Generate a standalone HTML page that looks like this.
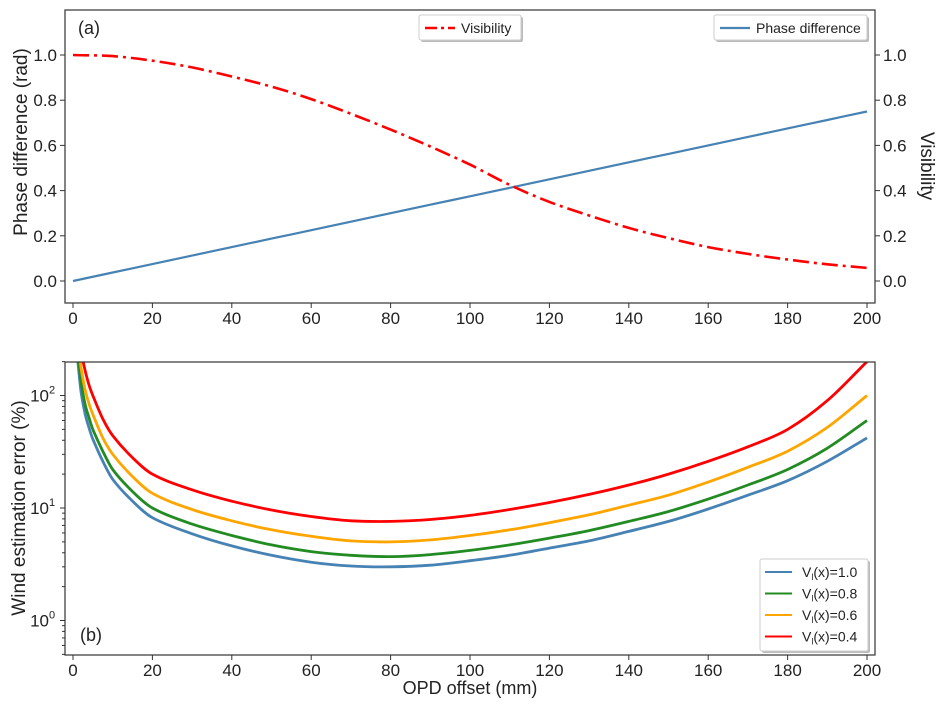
<!DOCTYPE html>
<html><head><meta charset="utf-8"><style>
body{margin:0;background:#fff;}
svg{display:block;font-family:"Liberation Sans","DejaVu Sans",sans-serif;}
</style></head><body>
<svg id="c" width="936" height="707"></svg>
<script>
const opd=[0,10,20,30,40,50,60,70,80,90,100,110,120,130,140,150,160,170,180,190,200];
const phaseVals=[0,0.0375,0.075,0.1125,0.15,0.1875,0.225,0.2625,0.3,0.3375,0.375,0.4125,0.45,0.4875,0.525,0.5625,0.6,0.6375,0.675,0.7125,0.75];
const visVals=[1.0,0.995,0.975,0.945,0.905,0.86,0.805,0.74,0.67,0.595,0.515,0.425,0.35,0.29,0.235,0.19,0.15,0.12,0.095,0.074,0.058];
const errX=[1,2,3,4,5,7.5,10,15,20,30,40,50,60,70,80,90,100,110,120,130,140,150,160,170,180,190,200];
const errRed=[600,260,170,125,100,62,44,28,20,14.5,11.5,9.6,8.4,7.7,7.6,7.9,8.6,9.7,11.2,13.2,16,20,26,35,50,90,200];
const errOrange=[400,180,115,85,68,42,30,19,13.5,9.7,7.7,6.4,5.6,5.1,5,5.2,5.7,6.4,7.4,8.7,10.6,13,17,23,32,52,100];
const errGreen=[300,135,85,64,50,32,22,14,10,7.2,5.7,4.7,4.1,3.8,3.7,3.85,4.2,4.7,5.4,6.3,7.6,9.3,12,16,22,34,60];
const errBlue=[240,110,70,52,41,26,18,11.5,8.2,5.9,4.6,3.8,3.3,3.05,3.0,3.1,3.4,3.8,4.4,5.1,6.2,7.6,9.8,13,17.5,26,42];
const xTicks=[0,20,40,60,80,100,120,140,160,180,200];
const yTicksTop=[0.0,0.2,0.4,0.6,0.8,1.0];
const yTicksLog=[0,1,2];

const NS='http://www.w3.org/2000/svg';
const svg=document.getElementById('c');
function mk(tag,attrs,parent){const e=document.createElementNS(NS,tag);for(const k in attrs)e.setAttribute(k,attrs[k]);(parent||svg).appendChild(e);return e;}
function txt(s,attrs,parent){const e=mk('text',attrs,parent);e.textContent=s;return e;}
const L=65,R=875;
const sx=v=>73+(v)*(867-73)/200;
const T1=10,B1=303; const sy1=v=>281-v*226;
const T2=362,B2=655; const sy2=v=>508-(Math.log10(v)-1)*112.5;

function smooth(pts){let d='M'+pts[0][0]+','+pts[0][1];
 for(let i=0;i<pts.length-1;i++){const p0=pts[Math.max(0,i-1)],p1=pts[i],p2=pts[i+1],p3=pts[Math.min(pts.length-1,i+2)];
 const h=p2[0]-p1[0];
 const m1=(p2[1]-p0[1])/((p2[0]-p0[0])||1), m2=(p3[1]-p1[1])/((p3[0]-p1[0])||1);
 const c1=[p1[0]+h/3,p1[1]+m1*h/3],c2=[p2[0]-h/3,p2[1]-m2*h/3];
 d+=' C'+c1[0].toFixed(1)+','+c1[1].toFixed(1)+' '+c2[0].toFixed(1)+','+c2[1].toFixed(1)+' '+p2[0].toFixed(1)+','+p2[1].toFixed(1);}
 return d;}

const defs=mk('defs',{});
const cp1=mk('clipPath',{id:'cp1'},defs);mk('rect',{x:L,y:T1,width:R-L,height:B1-T1},cp1);
const cp2=mk('clipPath',{id:'cp2'},defs);mk('rect',{x:L,y:T2,width:R-L,height:B2-T2},cp2);

const g1=mk('g',{'clip-path':'url(#cp1)'});


let p=mk('path',{d:smooth(opd.map((x,i)=>[sx(x),sy1(phaseVals[i])])),fill:'none',stroke:'#4682b4','stroke-width':2.2},g1);


p=mk('path',{d:smooth(opd.map((x,i)=>[sx(x),sy1(visVals[i])])),fill:'none',stroke:'#ff0000','stroke-width':2.6,'stroke-dasharray':'16,5,3,5'},g1);



function frame(T,B,name){const r=mk('rect',{x:L,y:T,width:R-L,height:B-T,fill:'none',stroke:'#333','stroke-width':1.2});
 }
frame(T1,B1,'top-axes-frame');
function xAxis(B,name){const g=mk('g',{});
 xTicks.forEach(t=>{mk('line',{x1:sx(t),x2:sx(t),y1:B,y2:B+5,stroke:'#333'},g);txt(String(t),{x:sx(t),y:B+21,'font-size':17,'text-anchor':'middle',fill:'#222'},g);});}
xAxis(B1,'top-x-axis');xAxis(B2,'bottom-x-axis');
const gl=mk('g',{});
const gr=mk('g',{});
yTicksTop.forEach(t=>{const y=sy1(t);mk('line',{x1:L-5,x2:L,y1:y,y2:y,stroke:'#333'},gl);
 txt(t.toFixed(1),{x:L-8,y:y+6,'font-size':17,'text-anchor':'end',fill:'#222'},gl);
 mk('line',{x1:R,x2:R+5,y1:y,y2:y,stroke:'#333'},gr);
 txt(t.toFixed(1),{x:R+8,y:y+6,'font-size':17,'text-anchor':'start',fill:'#222'},gr);});
let t=txt('Phase difference (rad)',{x:0,y:0,'font-size':19,'text-anchor':'middle',fill:'#222',transform:'translate(27,142) rotate(-90)'});

t=txt('Visibility',{x:0,y:0,'font-size':19,'text-anchor':'middle',fill:'#222',transform:'translate(921,166) rotate(90)'});

t=txt('(a)',{x:78,y:34,'font-size':18,fill:'#222'});

function legendBox(x,y,w,h,name){const g=mk('g',{});
 mk('rect',{x:x+2,y:y+2,width:w,height:h,fill:'#bbb',rx:2},g);mk('rect',{x:x,y:y,width:w,height:h,fill:'#fff',stroke:'#ccc',rx:2},g);return g;}
let lg=legendBox(419,15,102,25,'visibility-legend');
mk('line',{x1:425,x2:455,y1:28,y2:28,stroke:'#f00','stroke-width':2.6,'stroke-dasharray':'12,4,3,4'},lg);
txt('Visibility',{x:461,y:33,'font-size':14,fill:'#222'},lg);
lg=legendBox(714,15,153,25,'phase-legend');
mk('line',{x1:720,x2:750,y1:28,y2:28,stroke:'#4682b4','stroke-width':2.2},lg);
txt('Phase difference',{x:756,y:33,'font-size':14,fill:'#222'},lg);

const g2=mk('g',{'clip-path':'url(#cp2)'});


const series=[['blue',errBlue,'#4682b4'],['green',errGreen,'#228b22'],['orange',errOrange,'#ffa500'],['red',errRed,'#ff0000']];
series.forEach(s=>{const e=mk('path',{d:smooth(errX.map((x,i)=>[sx(x),sy2(s[1][i])])),fill:'none',stroke:s[2],'stroke-width':2.8},g2);
 
 });
frame(T2,B2,'bottom-axes-frame');
const gl2=mk('g',{});
yTicksLog.forEach(k=>{const y=sy2(Math.pow(10,k));mk('line',{x1:L-5,x2:L,y1:y,y2:y,stroke:'#333'},gl2);
 txt('10',{x:L-16,y:y+6,'font-size':17,'text-anchor':'end',fill:'#222'},gl2);
 txt(String(k),{x:L-16,y:y-2,'font-size':11,fill:'#222'},gl2);});
for(let k=-1;k<=2;k++)for(let m=2;m<10;m++){const v=m*Math.pow(10,k);if(v<0.5||v>200)continue;const y=sy2(v);mk('line',{x1:L-3,x2:L,y1:y,y2:y,stroke:'#333'},gl2);}
t=txt('Wind estimation error (%)',{x:0,y:0,'font-size':19,'text-anchor':'middle',fill:'#222',transform:'translate(25,508) rotate(-90)'});

t=txt('OPD offset (mm)',{x:470,y:694,'font-size':18,'text-anchor':'middle',fill:'#222'});

t=txt('(b)',{x:80,y:641,'font-size':18,fill:'#222'});
lg=legendBox(760,559,108,92,'error-legend');
[['1.0','#4682b4'],['0.8','#228b22'],['0.6','#ffa500'],['0.4','#ff0000']].forEach((e,i)=>{const y=572+i*21.5;
 mk('line',{x1:765,x2:792,y1:y,y2:y,stroke:e[1],'stroke-width':2},lg);
 const tt=txt('',{x:802,y:y+5,'font-size':14,fill:'#222'},lg);
 tt.innerHTML='V<tspan font-size="9" dy="3">l</tspan><tspan dy="-3">(x)='+e[0]+'</tspan>';});
</script>
</body></html>
